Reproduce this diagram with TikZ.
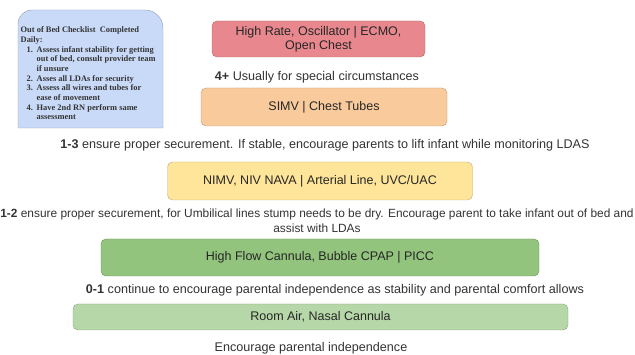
\documentclass[tikz,border=0pt]{standalone}
\usepackage{fontspec}
\setmainfont{Liberation Sans}
\newfontfamily\checkfont{Liberation Serif}
\usetikzlibrary{positioning}
\definecolor{redbox}{HTML}{E8888E}
\definecolor{orangebox}{HTML}{F9CB9C}
\definecolor{yellowbox}{HTML}{FFE599}
\definecolor{greenbox}{HTML}{93C47D}
\definecolor{lightbox}{HTML}{B6D7A8}
\definecolor{bluebox}{HTML}{C9DAF8}
\newcommand{\checkitem}[1]{\makebox[16pt][l]{\hspace{6pt}#1}}
\newcommand{\checkmore}{\hspace*{16pt}}
\tikzset{
  level/.style={draw=#1!75!black, fill=#1, rounded corners=5pt, inner sep=0pt,
    align=center, font=\fontsize{12.5}{14}\selectfont, text=black!85},
  note/.style={align=center, font=\fontsize{12.6}{15}\selectfont, text=black!80, inner sep=0pt}
}
\begin{document}
\begin{tikzpicture}[x=1pt,y=-1pt]
        \useasboundingbox (0,0) rectangle (635,355);
        % checklist card
        \draw[draw=bluebox!70!black, fill=bluebox] (18,128) [rounded corners=14pt] -- (18,10)
          [rounded corners=18pt] -- (163,10) [sharp corners] -- (163,128) -- cycle;
        \node[anchor=north west, inner sep=0pt, align=left, text=black!80,
          font=\checkfont\bfseries\fontsize{8.4}{9.7}\selectfont] (checklist) at (20.5,26.5)
          {Out of Bed Checklist\ \ Completed\\
           Daily:\\
           \checkitem{1.}Assess infant stability for getting\\
           \checkmore out of bed, consult provider team\\
           \checkmore if unsure\\
           \checkitem{2.}Asses all LDAs for security\\
           \checkitem{3.}Assess all wires and tubes for\\
           \checkmore ease of movement\\
           \checkitem{4.}Have 2nd RN perform same\\
           \checkmore assessment};

        % levels
        \node[level=redbox, minimum width=213, minimum height=36] (high) at (318.5,39)
          {High Rate, Oscillator | ECMO,\\Open Chest};
        \node[note] (four) at (317,77) {\textbf{4+} Usually for special circumstances};
        \node[level=orangebox, minimum width=246, minimum height=38] (simv) at (324,107)
          {SIMV | Chest Tubes};
        \node[note] (three) at (325,145)
          {\textbf{1-3} ensure proper securement. If stable, encourage parents to lift infant while monitoring LDAS};
        \node[level=yellowbox, minimum width=305, minimum height=38] (nimv) at (320,181)
          {NIMV, NIV NAVA | Arterial Line, UVC/UAC};
        \node[note, font=\fontsize{11.9}{15}\selectfont] (two) at (317,221)
          {\textbf{1-2} ensure proper securement, for Umbilical lines stump needs to be dry. Encourage parent to take infant out of bed and\\assist with LDAs};
        \node[level=greenbox, minimum width=438, minimum height=37] (flow) at (320,257.5)
          {High Flow Cannula, Bubble CPAP | PICC};
        \node[note] (one) at (335,290)
          {\textbf{0-1} continue to encourage parental independence as stability and parental comfort allows};
        \node[level=lightbox, minimum width=495, minimum height=26] (air) at (320.5,317)
          {Room Air, Nasal Cannula};
        \node[note] (zero) at (311,348) {Encourage parental independence};
\end{tikzpicture}
\end{document}
